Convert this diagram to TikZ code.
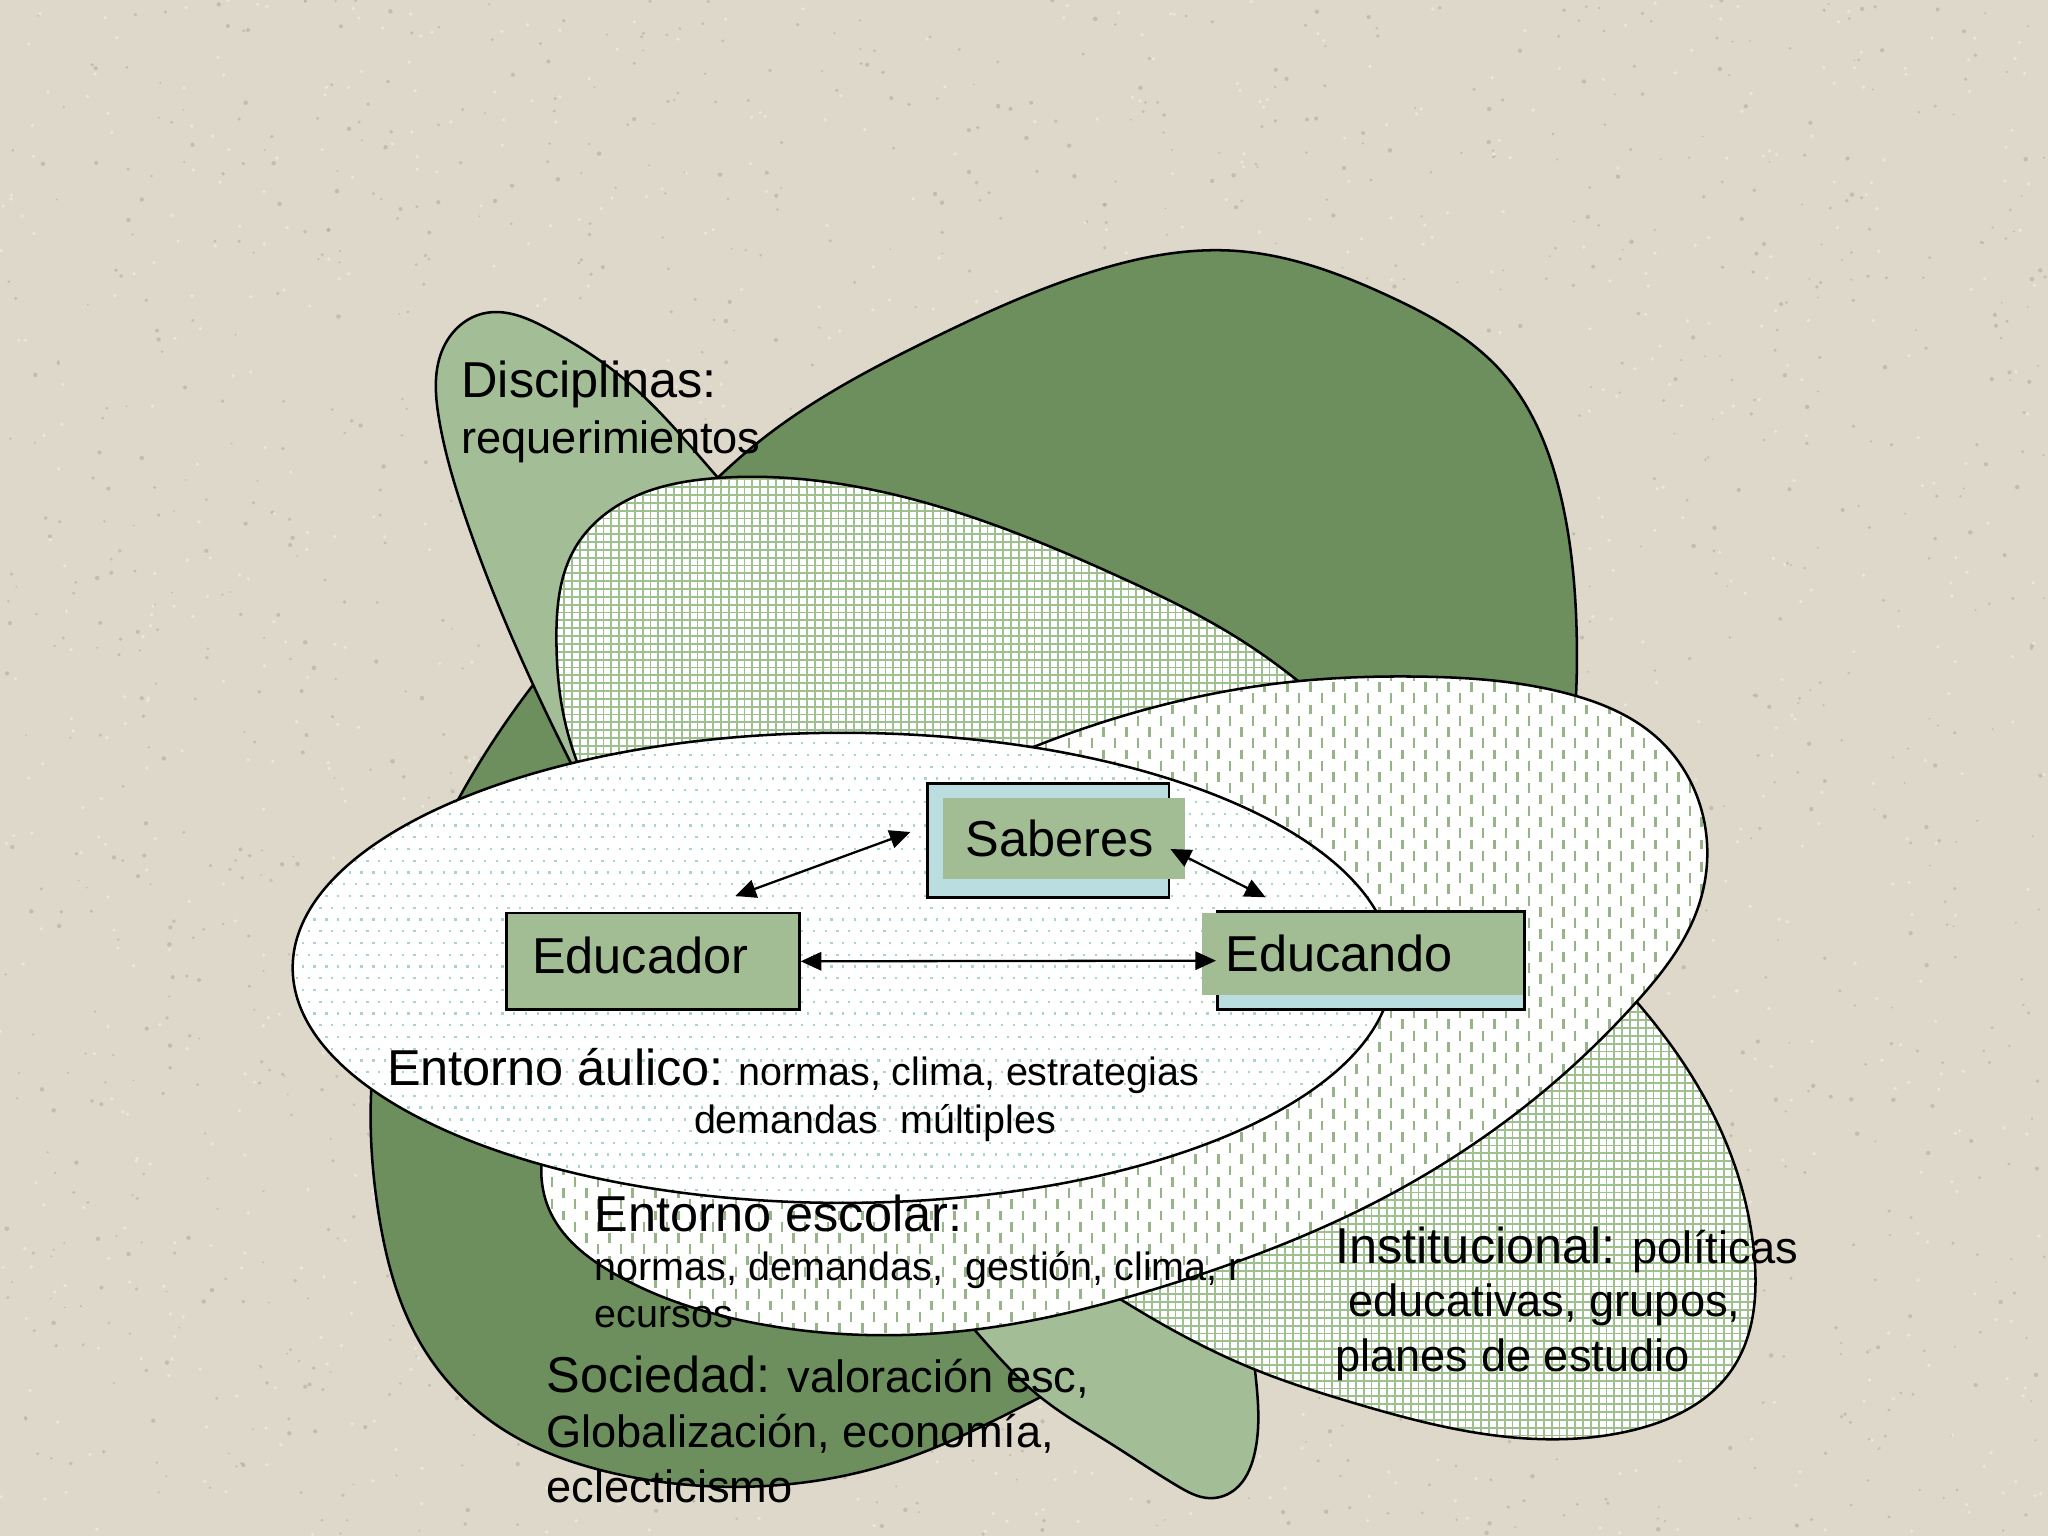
\documentclass[tikz,border=0pt]{standalone}
\usepackage{fontspec}
\setmainfont{Liberation Sans}
\usetikzlibrary{arrows.meta,hobby}
\definecolor{bgc}{RGB}{222,216,202}
\definecolor{speckd}{RGB}{170,163,148}
\definecolor{speckl}{RGB}{238,234,226}
\definecolor{dgreen}{RGB}{108,143,93}
\definecolor{lgreen}{RGB}{163,189,150}
\definecolor{boxg}{RGB}{162,188,148}
\definecolor{lblue}{RGB}{186,221,224}
\definecolor{gridc}{RGB}{158,192,142}
\definecolor{dashc}{RGB}{150,180,136}
\definecolor{dotc}{RGB}{168,212,207}
\newcommand\szL{\fontsize{22}{26}\selectfont}
\newcommand\szM{\fontsize{19.7}{24}\selectfont}
\newcommand\szS{\fontsize{17.2}{21}\selectfont}
\newcommand\shpDark{plot[closed hobby] coordinates {(945,192) (1064,227) (1150,285) (1195,380) (1207,480) (1195,620) (1140,760) (1060,880) (950,985) (800,1068) (690,1118) (580,1138) (470,1128) (383,1093) (320,1025) (290,930) (284,840) (305,720) (352,610) (410,522) (480,440) (580,339) (712,260) (830,210)}}
\newcommand\shpLight{plot[closed hobby] coordinates {(370,240) (420,252) (480,292) (549,365) (650,475) (780,640) (880,820) (945,970) (962,1060) (960,1115) (946,1140) (926,1147) (902,1138) (850,1105) (797,1070) (746,1018) (620,870) (500,700) (440,590) (395,495) (357,398) (336,320) (340,265)}}
\newcommand\shpGrid{plot[closed hobby] coordinates {(426,490) (440,420) (480,383) (549,366) (640,370) (756,400) (860,443) (950,490) (1050,570) (1150,665) (1253,767) (1315,860) (1343,960) (1325,1050) (1250,1095) (1153,1100) (1036,1074) (957,1047) (855,993) (700,880) (560,750) (470,640) (432,550)}}
\newcommand\shpDash{plot[closed hobby] coordinates {(826,559) (989,522) (1085,518) (1200,531) (1270,566) (1305,630) (1300,695) (1253,767) (1174,842) (1050,922) (900,982) (746,1018) (578,1013) (470,975) (420,925) (418,870) (470,790) (560,705) (680,625)}}
\newcommand\shpWhite{(645,741) ellipse [x radius=8.42cm, y radius=3.6cm]}
\tikzset{
  shapeln/.style={draw=black, line width=1.1pt},
  gridln/.style={draw=gridc, line width=0.8pt},
  dashln/.style={draw=dashc, line width=1.1pt, dash pattern=on 4.3pt off 5.5pt},
  dotln/.style={draw=dotc, line width=1pt, dash pattern=on 1pt off 4.12pt},
  outbox/.style={fill=lblue, draw=black, line width=1.2pt, inner sep=0pt},
  grnbox/.style={fill=boxg, inner sep=0pt},
  edbox/.style={fill=boxg, draw=black, line width=1.2pt, inner sep=0pt},
  lbl/.style={anchor=base west, inner sep=0pt, text=black},
  conn/.style={draw=black, line width=1pt, {Triangle[length=9pt,width=8pt]}-{Triangle[length=9pt,width=8pt]}}
}
\begin{document}
\begin{tikzpicture}[x=0.02cm, y=-0.02cm]
\useasboundingbox (0,0) rectangle (1568,1176);
% background
\fill[bgc] (0,0) rectangle (1568,1176);
\pgfmathsetseed{4242}
\foreach \i in {1,...,1800}{
  \pgfmathsetmacro\rx{rnd*1568}
  \pgfmathsetmacro\ry{rnd*1176}
  \pgfmathsetmacro\rr{0.4+rnd*0.6}
  \fill[speckd, opacity=0.5] (\rx,\ry) circle[radius=\rr pt];
}
\foreach \i in {1,...,1100}{
  \pgfmathsetmacro\rx{rnd*1568}
  \pgfmathsetmacro\ry{rnd*1176}
  \fill[speckl, opacity=0.8] (\rx,\ry) circle[radius=0.8pt];
}
% Sociedad (dark green)
\fill[dgreen] \shpDark;
\draw[shapeln] \shpDark;
% Disciplinas (light green)
\fill[lgreen] \shpLight;
\draw[shapeln] \shpLight;
% Institucional (grid)
\begin{scope}
  \clip \shpGrid;
  \fill[white] (400,350) rectangle (1360,1110);
  \foreach \x in {420,426,...,1350} \draw[gridln] (\x,350) -- (\x,1110);
  \foreach \y in {355,361,...,1110} \draw[gridln] (400,\y) -- (1360,\y);
\end{scope}
\draw[shapeln] \shpGrid;
% Entorno escolar (dashes)
\begin{scope}
  \clip \shpDash;
  \fill[white] (400,505) rectangle (1320,1030);
  \foreach \i in {0,...,104}{
    \pgfmathsetmacro\xx{405+\i*8.8}
    \pgfmathsetmacro\ph{mod(\i,2)*4.9}
    \draw[dashln, dash phase=\ph pt] (\xx,505) -- (\xx,1030);
  }
\end{scope}
\draw[shapeln] \shpDash;
% Entorno aulico (dots)
\begin{scope}
  \clip \shpWhite;
  \fill[white] (220,555) rectangle (1070,925);
  \foreach \j in {0,...,42}{
    \pgfmathsetmacro\yy{560+\j*9}
    \pgfmathsetmacro\ph{mod(\j,2)*2.56}
    \draw[dotln, dash phase=\ph pt] (222,\yy) -- (1070,\yy);
  }
\end{scope}
\draw[shapeln] \shpWhite;
% boxes
\node[outbox, minimum width=3.7cm, minimum height=1.74cm] (sabout) at (802.5,643.5) {};
\node[grnbox, minimum width=3.7cm, minimum height=1.24cm] (sab) at (814.5,642) {};
\node[edbox, minimum width=4.48cm, minimum height=1.48cm] (edor) at (500,736) {};
\node[outbox, minimum width=4.7cm, minimum height=1.5cm] (edoout) at (1049.5,735.5) {};
\node[grnbox, minimum width=4.92cm, minimum height=1.26cm] (edo) at (1043,730.5) {};
\node[lbl, font=\szL] (sabt) at (739,656) {Saberes};
\node[lbl, font=\szL] (edort) at (407,745) {Educador};
\node[lbl, font=\szL] (edot) at (938,744) {Educando};
% connectors
\coordinate (a1) at (563,686);
\coordinate (a2) at (697,637);
\coordinate (b1) at (896,650);
\coordinate (b2) at (969,687);
\draw[conn] (a1) -- (a2);
\draw[conn] (b1) -- (b2);
\draw[conn] (edor.east) -- (edoout.west);
% texts
\node[lbl, font=\szL] (dis1) at (353,304) {Disciplinas:};
\node[lbl, font=\szM] (dis2) at (353,347) {requerimientos};
\node[lbl, font=\szL] (aul1) at (296,831) {Entorno áulico:{\szS{} normas, clima, estrategias}};
\node[lbl, font=\szS] (aul2) at (531,868) {demandas\ \ múltiples};
\node[lbl, font=\szL] (esc1) at (455,943) {Entorno escolar:};
\node[lbl, font=\szS] (esc2) at (455,980) {normas, demandas,\ \ gestión, clima, r};
\node[lbl, font=\szS] (esc3) at (455,1016) {ecursos};
\node[lbl, font=\szL] (ins1) at (1022,967) {Institucional:{\szM{} políticas}};
\node[lbl, font=\szM] (ins2) at (1032,1008) {educativas, grupos,};
\node[lbl, font=\szM] (ins3) at (1022,1050) {planes de estudio};
\node[lbl, font=\szL] (soc1) at (418,1066) {Sociedad:{\szM{} valoración esc,}};
\node[lbl, font=\szM] (soc2) at (418,1108) {Globalización, economía,};
\node[lbl, font=\szM] (soc3) at (418,1150) {eclecticismo};
\end{tikzpicture}
\end{document}
